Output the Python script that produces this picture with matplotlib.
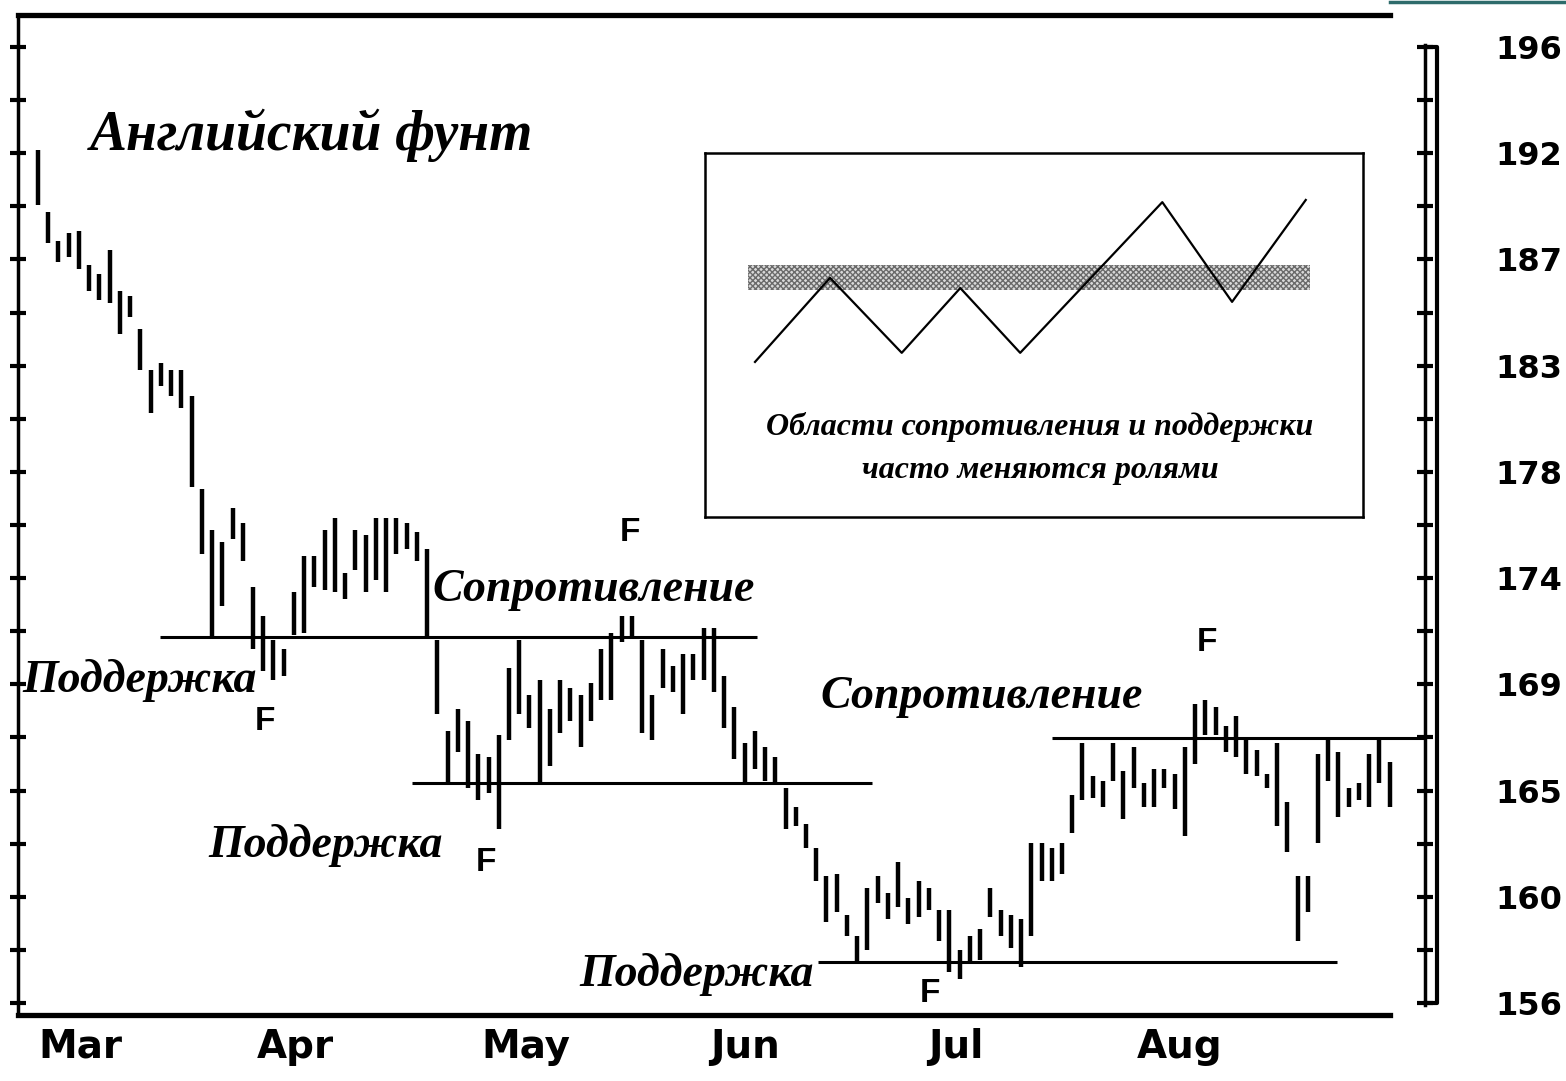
import numpy as np
import matplotlib
matplotlib.use("Agg")
import matplotlib.pyplot as plt
from matplotlib.lines import Line2D

# ---------------- data ----------------
highs = [191.7, 189.1, 187.9, 188.2, 188.3, 186.9, 186.5, 187.5, 185.8, 185.6,
         184.2, 182.5, 182.8, 182.5, 182.5, 181.4, 177.5, 175.8, 175.3, 176.7,
         176.1, 173.4, 172.2, 171.2, 170.8, 173.2, 174.7, 174.7, 175.8, 176.3,
         174.0, 175.8, 175.6, 176.3, 176.3, 176.3, 176.1, 175.7, 175.0, 171.2,
         167.4, 168.3, 167.8, 166.4, 166.3, 167.2, 170.0, 171.2, 168.9, 169.5,
         168.3, 169.5, 169.2, 168.9, 169.4, 170.8, 171.5, 172.2, 172.2, 171.2,
         168.9, 170.8, 170.1, 170.6, 170.6, 171.7, 171.7, 169.7, 168.4, 166.9,
         167.4, 166.7, 166.3, 165.0, 164.2, 163.5, 162.5, 161.3, 161.4, 159.7,
         158.8, 160.8, 161.3, 160.6, 161.9, 160.4, 161.1, 160.8, 159.9, 159.9,
         158.2, 158.8, 159.1, 160.8, 159.9, 159.7, 159.5, 162.7, 162.7, 162.5,
         162.7, 164.7, 166.9, 165.5, 165.3, 166.9, 165.7, 166.7, 165.2, 165.8,
         165.8, 165.6, 166.7, 168.5, 168.7, 168.4, 167.6, 168.0, 167.0, 166.6,
         165.6, 166.9, 164.4, 161.3, 161.3, 166.4, 167.0, 166.5, 165.0, 165.2,
         166.4, 167.0, 166.1]
lows = [189.4, 187.8, 187.0, 187.2, 186.7, 185.8, 185.4, 185.3, 184.0, 184.7,
        182.5, 180.7, 181.8, 181.4, 180.9, 177.6, 174.8, 171.3, 172.6, 175.4,
        174.5, 170.8, 169.9, 169.5, 169.7, 171.4, 171.5, 173.4, 173.3, 173.2,
        172.9, 174.1, 173.2, 173.7, 173.2, 174.8, 175.0, 174.5, 171.3, 168.1,
        165.2, 166.5, 165.0, 164.5, 164.8, 163.3, 167.0, 168.1, 167.5, 165.2,
        165.9, 167.3, 167.8, 166.7, 167.8, 168.7, 168.7, 171.1, 171.3, 167.3,
        167.0, 169.2, 169.0, 168.1, 169.5, 169.5, 169.0, 167.5, 166.2, 165.2,
        165.8, 165.3, 165.2, 163.3, 163.4, 162.5, 161.1, 159.4, 159.8, 158.8,
        157.7, 158.2, 160.2, 159.5, 160.0, 159.3, 159.6, 159.9, 158.6, 157.3,
        157.0, 157.7, 157.8, 159.6, 158.8, 158.3, 157.5, 158.8, 161.1, 161.1,
        161.4, 163.1, 164.5, 164.6, 164.2, 165.3, 163.7, 165.0, 164.2, 164.2,
        165.0, 164.1, 163.0, 166.0, 167.2, 167.2, 166.5, 166.3, 165.6, 165.5,
        165.0, 163.4, 162.3, 158.6, 159.8, 162.7, 165.3, 163.8, 164.2, 164.5,
        164.2, 165.2, 164.2]
days = np.arange(len(highs))

month_labels = ["Mar", "Apr", "May", "Jun", "Jul", "Aug"]
month_pos = [4.1, 25.1, 47.6, 69.0, 89.6, 111.5]

price_ticks = np.linspace(156, 196, 10)
price_tick_labels = ["156", "160", "165", "169", "174", "178", "183", "187", "192", "196"]

# support / resistance lines: level, start day, end day
line_levels = [171.3, 165.2, 157.7, 167.1]
line_start = [11.9, 36.5, 76.2, 99.0]
line_end = [70.2, 81.4, 126.9, 135.45]

# inset schematic
inset_x = [7.6, 19.0, 29.9, 38.8, 47.9, 69.5, 80.1, 91.3]
inset_y = [42.6, 65.7, 45.1, 62.9, 45.1, 86.5, 59.1, 87.1]
band_x = [6.5, 91.9]
band_lo = 62.4
band_hi = 69.2

# ---------------- figure ----------------
W, H = 1566, 1081
fig = plt.figure(figsize=(W / 100, H / 100), dpi=100)
fig.patch.set_facecolor("white")
ax = fig.add_axes([18 / W, 1 - 1015 / H, 1407 / W, 1000 / H])

XL = (-1.95, 135.45)
YL = (155.50, 197.34)
ax.set_xlim(*XL)
ax.set_ylim(*YL)

ax.vlines(days, lows, highs, color="black", linewidth=3.2)

for lv, s, e in zip(line_levels, line_start, line_end):
    ax.plot([s, e], [lv, lv], color="black", linewidth=2.2, solid_capstyle="butt")

# spines
for sp in ["top", "bottom"]:
    ax.spines[sp].set_linewidth(3.8)
    ax.spines[sp].set_bounds(XL[0], 132.0)
ax.spines["left"].set_linewidth(2.5)
ax.spines["right"].set_linewidth(2.5)
ax.spines["right"].set_bounds(155.9, 196.1)

# ticks
ax.set_yticks(price_ticks)
ax.set_yticks((price_ticks[:-1] + price_ticks[1:]) / 2, minor=True)
ax.yaxis.set_ticks_position("both")
ax.tick_params(axis="y", which="both", direction="inout", length=11, width=3,
               labelleft=False, labelright=True, pad=45)
ax.set_yticklabels(price_tick_labels, fontsize=23, fontweight="bold",
                   family="DejaVu Sans")
ax.set_xticks(month_pos)
ax.set_xticklabels(month_labels, fontsize=28, fontweight="bold",
                   family="DejaVu Sans")
ax.tick_params(axis="x", length=0, pad=9)

# second right rail
fig.add_artist(Line2D([1425 / W, 1437 / W, 1437 / W, 1425 / W],
                      [1 - 47 / H, 1 - 47 / H, 1 - 1003 / H, 1 - 1003 / H],
                      transform=fig.transFigure, color="black", linewidth=3))
fig.add_artist(Line2D([1390 / W, 1], [1 - 1.5 / H, 1 - 1.5 / H],
                      transform=fig.transFigure, color="#2e6b6b", linewidth=2.5))

serif = dict(family="Liberation Serif", fontweight="bold", fontstyle="italic", color="black")
sans = dict(family="Liberation Sans", fontweight="bold", color="black")

ax.text(5.1, 192.3, "Английский фунт", fontsize=40, ha="left", va="center", **serif)
ax.text(-1.56, 169.5, "Поддержка", fontsize=33, ha="left", va="center", **serif)
ax.text(16.6, 162.6, "Поддержка", fontsize=33, ha="left", va="center", **serif)
ax.text(52.9, 157.2, "Поддержка", fontsize=33, ha="left", va="center", **serif)
ax.text(38.5, 173.3, "Сопротивление", fontsize=33, ha="left", va="center", **serif)
ax.text(76.4, 168.8, "Сопротивление", fontsize=33, ha="left", va="center", **serif)
for fx, fy in [(22.2, 167.8), (43.7, 161.9), (57.8, 175.7), (114.2, 171.1), (87.1, 156.4)]:
    ax.text(fx, fy, "F", fontsize=24, ha="center", va="center", **sans)

# inset
axi = fig.add_axes([705 / W, 1 - 517 / H, 658 / W, 364 / H])
axi.set_xlim(0, 100)
axi.set_ylim(0, 100)
axi.set_xticks([])
axi.set_yticks([])
for sp in axi.spines.values():
    sp.set_linewidth(1.8)
plt.rcParams["hatch.linewidth"] = 1.0
axi.fill_between(band_x, [band_lo, band_lo], [band_hi, band_hi], facecolor="#d9d9d9",
                 edgecolor="#6a6a6a", hatch="xxxxxx", linewidth=0)
axi.plot(inset_x, inset_y, color="black", linewidth=1.6)
axi.text(50.9, 24.7, "Области сопротивления и поддержки", fontsize=23, ha="center",
         va="center", **serif)
axi.text(50.9, 12.9, "часто меняются ролями", fontsize=23, ha="center", va="center", **serif)

fig.savefig("out.png", dpi=100, facecolor="white")
